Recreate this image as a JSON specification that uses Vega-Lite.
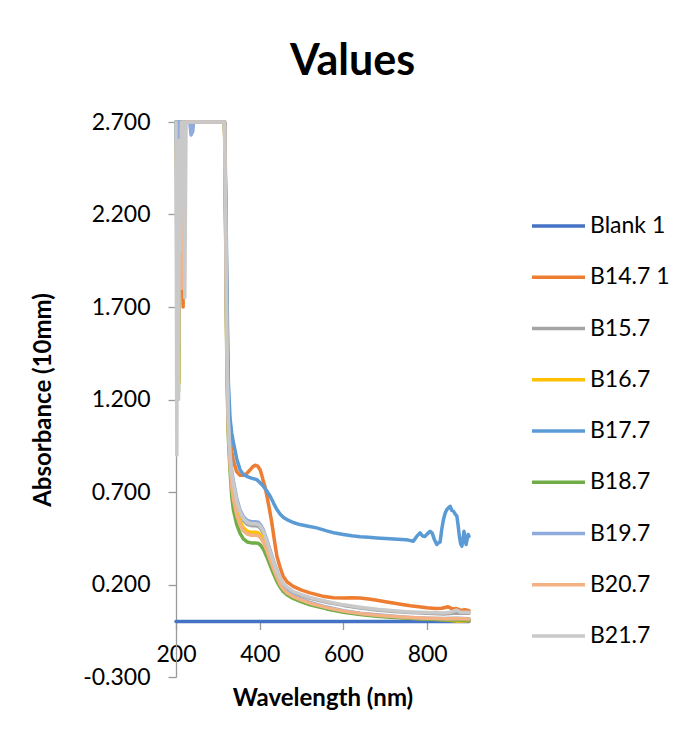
{
  "$schema": "https://vega.github.io/schema/vega-lite/v6.json",
  "width": 293,
  "height": 555,
  "autosize": {"type": "none"},
  "padding": {"left": 176, "top": 122, "right": 220, "bottom": 67},
  "background": "white",
  "title": {"text": "Values", "font": "Lato", "fontSize": 43, "fontWeight": "bold", "color": "black", "anchor": "middle", "frame": "group", "dx": 30, "offset": 27},
  "config": {"view": {"stroke": null}, "font": "Lato"},
  "data": {"values": [
    {"s":"Blank 1","w":200,"a":0},{"s":"Blank 1","w":900,"a":0},

    {"s":"B14.7 1","w":200,"a":2.7},{"s":"B14.7 1","w":204,"a":2.6},{"s":"B14.7 1","w":208,"a":2.2},{"s":"B14.7 1","w":211,"a":2.6},{"s":"B14.7 1","w":214,"a":2.0},{"s":"B14.7 1","w":217,"a":1.7},{"s":"B14.7 1","w":219,"a":2.4},{"s":"B14.7 1","w":222,"a":2.7},{"s":"B14.7 1","w":316,"a":2.7},{"s":"B14.7 1","w":319,"a":2.2},{"s":"B14.7 1","w":322,"a":1.65},{"s":"B14.7 1","w":325,"a":1.2},{"s":"B14.7 1","w":329,"a":1.0},{"s":"B14.7 1","w":333,"a":0.92},{"s":"B14.7 1","w":337,"a":0.87},{"s":"B14.7 1","w":345,"a":0.81},{"s":"B14.7 1","w":353,"a":0.79},{"s":"B14.7 1","w":361,"a":0.79},{"s":"B14.7 1","w":369,"a":0.8},{"s":"B14.7 1","w":377,"a":0.82},{"s":"B14.7 1","w":383,"a":0.835},{"s":"B14.7 1","w":389,"a":0.845},{"s":"B14.7 1","w":395,"a":0.84},{"s":"B14.7 1","w":401,"a":0.82},{"s":"B14.7 1","w":405,"a":0.79},{"s":"B14.7 1","w":409,"a":0.755},{"s":"B14.7 1","w":413,"a":0.725},{"s":"B14.7 1","w":417,"a":0.68},{"s":"B14.7 1","w":423,"a":0.61},{"s":"B14.7 1","w":429,"a":0.533},{"s":"B14.7 1","w":435,"a":0.44},{"s":"B14.7 1","w":441,"a":0.353},{"s":"B14.7 1","w":449,"a":0.29},{"s":"B14.7 1","w":456,"a":0.245},{"s":"B14.7 1","w":465,"a":0.215},{"s":"B14.7 1","w":480,"a":0.19},{"s":"B14.7 1","w":500,"a":0.17},{"s":"B14.7 1","w":520,"a":0.155},{"s":"B14.7 1","w":550,"a":0.137},{"s":"B14.7 1","w":576,"a":0.128},{"s":"B14.7 1","w":600,"a":0.127},{"s":"B14.7 1","w":620,"a":0.129},{"s":"B14.7 1","w":640,"a":0.127},{"s":"B14.7 1","w":660,"a":0.122},{"s":"B14.7 1","w":680,"a":0.115},{"s":"B14.7 1","w":700,"a":0.107},{"s":"B14.7 1","w":719,"a":0.1},{"s":"B14.7 1","w":740,"a":0.092},{"s":"B14.7 1","w":760,"a":0.085},{"s":"B14.7 1","w":780,"a":0.08},{"s":"B14.7 1","w":799,"a":0.074},{"s":"B14.7 1","w":820,"a":0.07},{"s":"B14.7 1","w":835,"a":0.072},{"s":"B14.7 1","w":850,"a":0.08},{"s":"B14.7 1","w":860,"a":0.068},{"s":"B14.7 1","w":870,"a":0.07},{"s":"B14.7 1","w":880,"a":0.06},{"s":"B14.7 1","w":890,"a":0.064},{"s":"B14.7 1","w":900,"a":0.058},

    {"s":"B15.7","w":200,"a":2.7},{"s":"B15.7","w":203,"a":1.5},{"s":"B15.7","w":206,"a":2.6},{"s":"B15.7","w":209,"a":1.9},{"s":"B15.7","w":212,"a":2.7},{"s":"B15.7","w":316,"a":2.7},{"s":"B15.7","w":319,"a":2.1},{"s":"B15.7","w":321,"a":1.6},{"s":"B15.7","w":323,"a":1.3},{"s":"B15.7","w":325,"a":1.08},{"s":"B15.7","w":329,"a":0.89},{"s":"B15.7","w":333,"a":0.79},{"s":"B15.7","w":337,"a":0.73},{"s":"B15.7","w":345,"a":0.64},{"s":"B15.7","w":353,"a":0.58},{"s":"B15.7","w":361,"a":0.545},{"s":"B15.7","w":370,"a":0.525},{"s":"B15.7","w":380,"a":0.518},{"s":"B15.7","w":390,"a":0.518},{"s":"B15.7","w":397,"a":0.515},{"s":"B15.7","w":403,"a":0.5},{"s":"B15.7","w":409,"a":0.475},{"s":"B15.7","w":417,"a":0.425},{"s":"B15.7","w":425,"a":0.37},{"s":"B15.7","w":433,"a":0.315},{"s":"B15.7","w":441,"a":0.265},{"s":"B15.7","w":449,"a":0.228},{"s":"B15.7","w":456,"a":0.202},{"s":"B15.7","w":465,"a":0.182},{"s":"B15.7","w":480,"a":0.158},{"s":"B15.7","w":500,"a":0.14},{"s":"B15.7","w":520,"a":0.125},{"s":"B15.7","w":560,"a":0.104},{"s":"B15.7","w":600,"a":0.087},{"s":"B15.7","w":640,"a":0.073},{"s":"B15.7","w":680,"a":0.062},{"s":"B15.7","w":720,"a":0.054},{"s":"B15.7","w":760,"a":0.048},{"s":"B15.7","w":800,"a":0.044},{"s":"B15.7","w":840,"a":0.041},{"s":"B15.7","w":870,"a":0.046},{"s":"B15.7","w":900,"a":0.045},

    {"s":"B16.7","w":200,"a":2.7},{"s":"B16.7","w":204,"a":2.1},{"s":"B16.7","w":207,"a":1.29},{"s":"B16.7","w":209,"a":2.3},{"s":"B16.7","w":212,"a":2.7},{"s":"B16.7","w":316,"a":2.7},{"s":"B16.7","w":319,"a":2.05},{"s":"B16.7","w":321,"a":1.55},{"s":"B16.7","w":323,"a":1.26},{"s":"B16.7","w":325,"a":1.05},{"s":"B16.7","w":329,"a":0.86},{"s":"B16.7","w":333,"a":0.745},{"s":"B16.7","w":337,"a":0.68},{"s":"B16.7","w":345,"a":0.595},{"s":"B16.7","w":353,"a":0.54},{"s":"B16.7","w":361,"a":0.507},{"s":"B16.7","w":370,"a":0.488},{"s":"B16.7","w":380,"a":0.482},{"s":"B16.7","w":390,"a":0.482},{"s":"B16.7","w":397,"a":0.479},{"s":"B16.7","w":403,"a":0.465},{"s":"B16.7","w":409,"a":0.442},{"s":"B16.7","w":417,"a":0.395},{"s":"B16.7","w":425,"a":0.344},{"s":"B16.7","w":433,"a":0.293},{"s":"B16.7","w":441,"a":0.246},{"s":"B16.7","w":449,"a":0.205},{"s":"B16.7","w":456,"a":0.178},{"s":"B16.7","w":465,"a":0.155},{"s":"B16.7","w":480,"a":0.132},{"s":"B16.7","w":500,"a":0.112},{"s":"B16.7","w":520,"a":0.096},{"s":"B16.7","w":560,"a":0.072},{"s":"B16.7","w":600,"a":0.053},{"s":"B16.7","w":640,"a":0.04},{"s":"B16.7","w":680,"a":0.031},{"s":"B16.7","w":720,"a":0.024},{"s":"B16.7","w":760,"a":0.018},{"s":"B16.7","w":800,"a":0.013},{"s":"B16.7","w":840,"a":0.01},{"s":"B16.7","w":870,"a":0.002},{"s":"B16.7","w":900,"a":0.004},

    {"s":"B17.7","w":200,"a":2.7},{"s":"B17.7","w":202,"a":2.55},{"s":"B17.7","w":204,"a":2.7},{"s":"B17.7","w":206,"a":2.58},{"s":"B17.7","w":208,"a":2.7},{"s":"B17.7","w":210,"a":2.6},{"s":"B17.7","w":212,"a":2.7},{"s":"B17.7","w":316,"a":2.7},{"s":"B17.7","w":319,"a":2.3},{"s":"B17.7","w":322,"a":1.75},{"s":"B17.7","w":325,"a":1.3},{"s":"B17.7","w":329,"a":1.1},{"s":"B17.7","w":333,"a":1.02},{"s":"B17.7","w":337,"a":0.97},{"s":"B17.7","w":345,"a":0.88},{"s":"B17.7","w":353,"a":0.82},{"s":"B17.7","w":361,"a":0.795},{"s":"B17.7","w":369,"a":0.785},{"s":"B17.7","w":380,"a":0.775},{"s":"B17.7","w":393,"a":0.767},{"s":"B17.7","w":401,"a":0.75},{"s":"B17.7","w":409,"a":0.73},{"s":"B17.7","w":417,"a":0.705},{"s":"B17.7","w":425,"a":0.677},{"s":"B17.7","w":433,"a":0.64},{"s":"B17.7","w":441,"a":0.605},{"s":"B17.7","w":449,"a":0.58},{"s":"B17.7","w":457,"a":0.562},{"s":"B17.7","w":465,"a":0.551},{"s":"B17.7","w":480,"a":0.535},{"s":"B17.7","w":496,"a":0.524},{"s":"B17.7","w":516,"a":0.515},{"s":"B17.7","w":536,"a":0.506},{"s":"B17.7","w":560,"a":0.49},{"s":"B17.7","w":580,"a":0.478},{"s":"B17.7","w":600,"a":0.47},{"s":"B17.7","w":620,"a":0.463},{"s":"B17.7","w":640,"a":0.458},{"s":"B17.7","w":660,"a":0.455},{"s":"B17.7","w":680,"a":0.452},{"s":"B17.7","w":700,"a":0.449},{"s":"B17.7","w":720,"a":0.446},{"s":"B17.7","w":740,"a":0.443},{"s":"B17.7","w":755,"a":0.44},{"s":"B17.7","w":767,"a":0.434},{"s":"B17.7","w":775,"a":0.46},{"s":"B17.7","w":783,"a":0.479},{"s":"B17.7","w":789,"a":0.462},{"s":"B17.7","w":795,"a":0.46},{"s":"B17.7","w":801,"a":0.475},{"s":"B17.7","w":807,"a":0.488},{"s":"B17.7","w":812,"a":0.478},{"s":"B17.7","w":817,"a":0.445},{"s":"B17.7","w":823,"a":0.416},{"s":"B17.7","w":827,"a":0.425},{"s":"B17.7","w":831,"a":0.43},{"s":"B17.7","w":835,"a":0.5},{"s":"B17.7","w":839,"a":0.551},{"s":"B17.7","w":843,"a":0.585},{"s":"B17.7","w":847,"a":0.605},{"s":"B17.7","w":851,"a":0.615},{"s":"B17.7","w":855,"a":0.623},{"s":"B17.7","w":859,"a":0.6},{"s":"B17.7","w":863,"a":0.596},{"s":"B17.7","w":867,"a":0.58},{"s":"B17.7","w":871,"a":0.569},{"s":"B17.7","w":874,"a":0.52},{"s":"B17.7","w":877,"a":0.46},{"s":"B17.7","w":880,"a":0.42},{"s":"B17.7","w":883,"a":0.407},{"s":"B17.7","w":886,"a":0.45},{"s":"B17.7","w":888,"a":0.488},{"s":"B17.7","w":891,"a":0.44},{"s":"B17.7","w":893,"a":0.416},{"s":"B17.7","w":896,"a":0.45},{"s":"B17.7","w":898,"a":0.47},{"s":"B17.7","w":900,"a":0.46},

    {"s":"B18.7","w":200,"a":2.7},{"s":"B18.7","w":203,"a":2.3},{"s":"B18.7","w":206,"a":1.24},{"s":"B18.7","w":208,"a":2.0},{"s":"B18.7","w":211,"a":2.7},{"s":"B18.7","w":316,"a":2.7},{"s":"B18.7","w":319,"a":2.0},{"s":"B18.7","w":321,"a":1.5},{"s":"B18.7","w":323,"a":1.2},{"s":"B18.7","w":325,"a":1.0},{"s":"B18.7","w":329,"a":0.82},{"s":"B18.7","w":333,"a":0.68},{"s":"B18.7","w":337,"a":0.605},{"s":"B18.7","w":345,"a":0.525},{"s":"B18.7","w":353,"a":0.476},{"s":"B18.7","w":361,"a":0.447},{"s":"B18.7","w":370,"a":0.43},{"s":"B18.7","w":380,"a":0.425},{"s":"B18.7","w":390,"a":0.425},{"s":"B18.7","w":397,"a":0.422},{"s":"B18.7","w":403,"a":0.41},{"s":"B18.7","w":409,"a":0.39},{"s":"B18.7","w":417,"a":0.349},{"s":"B18.7","w":425,"a":0.303},{"s":"B18.7","w":433,"a":0.258},{"s":"B18.7","w":441,"a":0.217},{"s":"B18.7","w":449,"a":0.185},{"s":"B18.7","w":456,"a":0.162},{"s":"B18.7","w":465,"a":0.145},{"s":"B18.7","w":480,"a":0.125},{"s":"B18.7","w":500,"a":0.106},{"s":"B18.7","w":520,"a":0.09},{"s":"B18.7","w":560,"a":0.068},{"s":"B18.7","w":600,"a":0.05},{"s":"B18.7","w":640,"a":0.038},{"s":"B18.7","w":680,"a":0.029},{"s":"B18.7","w":720,"a":0.022},{"s":"B18.7","w":760,"a":0.017},{"s":"B18.7","w":800,"a":0.013},{"s":"B18.7","w":840,"a":0.01},{"s":"B18.7","w":870,"a":0.008},{"s":"B18.7","w":900,"a":0.008},

    {"s":"B19.7","w":200,"a":2.7},{"s":"B19.7","w":204,"a":2.2},{"s":"B19.7","w":207,"a":2.7},{"s":"B19.7","w":233,"a":2.7},{"s":"B19.7","w":236,"a":2.63},{"s":"B19.7","w":240,"a":2.65},{"s":"B19.7","w":242,"a":2.7},{"s":"B19.7","w":316,"a":2.7},{"s":"B19.7","w":319,"a":2.15},{"s":"B19.7","w":321,"a":1.65},{"s":"B19.7","w":323,"a":1.33},{"s":"B19.7","w":325,"a":1.1},{"s":"B19.7","w":329,"a":0.91},{"s":"B19.7","w":333,"a":0.82},{"s":"B19.7","w":337,"a":0.76},{"s":"B19.7","w":345,"a":0.666},{"s":"B19.7","w":353,"a":0.603},{"s":"B19.7","w":361,"a":0.567},{"s":"B19.7","w":370,"a":0.546},{"s":"B19.7","w":380,"a":0.539},{"s":"B19.7","w":390,"a":0.539},{"s":"B19.7","w":397,"a":0.536},{"s":"B19.7","w":403,"a":0.52},{"s":"B19.7","w":409,"a":0.494},{"s":"B19.7","w":417,"a":0.442},{"s":"B19.7","w":425,"a":0.385},{"s":"B19.7","w":433,"a":0.328},{"s":"B19.7","w":441,"a":0.276},{"s":"B19.7","w":449,"a":0.225},{"s":"B19.7","w":456,"a":0.195},{"s":"B19.7","w":465,"a":0.168},{"s":"B19.7","w":480,"a":0.14},{"s":"B19.7","w":500,"a":0.12},{"s":"B19.7","w":520,"a":0.103},{"s":"B19.7","w":560,"a":0.078},{"s":"B19.7","w":600,"a":0.058},{"s":"B19.7","w":640,"a":0.045},{"s":"B19.7","w":680,"a":0.036},{"s":"B19.7","w":720,"a":0.028},{"s":"B19.7","w":760,"a":0.022},{"s":"B19.7","w":800,"a":0.018},{"s":"B19.7","w":840,"a":0.016},{"s":"B19.7","w":870,"a":0.018},{"s":"B19.7","w":900,"a":0.015},

    {"s":"B20.7","w":200,"a":2.5},{"s":"B20.7","w":203,"a":2.6},{"s":"B20.7","w":206,"a":1.5},{"s":"B20.7","w":208,"a":2.4},{"s":"B20.7","w":211,"a":2.45},{"s":"B20.7","w":214,"a":1.8},{"s":"B20.7","w":217,"a":2.6},{"s":"B20.7","w":220,"a":2.7},{"s":"B20.7","w":316,"a":2.7},{"s":"B20.7","w":319,"a":2.05},{"s":"B20.7","w":321,"a":1.55},{"s":"B20.7","w":323,"a":1.25},{"s":"B20.7","w":325,"a":1.04},{"s":"B20.7","w":329,"a":0.85},{"s":"B20.7","w":333,"a":0.73},{"s":"B20.7","w":337,"a":0.665},{"s":"B20.7","w":345,"a":0.576},{"s":"B20.7","w":353,"a":0.522},{"s":"B20.7","w":361,"a":0.49},{"s":"B20.7","w":370,"a":0.473},{"s":"B20.7","w":380,"a":0.466},{"s":"B20.7","w":390,"a":0.466},{"s":"B20.7","w":397,"a":0.464},{"s":"B20.7","w":403,"a":0.45},{"s":"B20.7","w":409,"a":0.428},{"s":"B20.7","w":417,"a":0.383},{"s":"B20.7","w":425,"a":0.333},{"s":"B20.7","w":433,"a":0.284},{"s":"B20.7","w":441,"a":0.239},{"s":"B20.7","w":449,"a":0.2},{"s":"B20.7","w":456,"a":0.175},{"s":"B20.7","w":465,"a":0.155},{"s":"B20.7","w":480,"a":0.135},{"s":"B20.7","w":500,"a":0.115},{"s":"B20.7","w":520,"a":0.099},{"s":"B20.7","w":560,"a":0.075},{"s":"B20.7","w":600,"a":0.056},{"s":"B20.7","w":640,"a":0.043},{"s":"B20.7","w":680,"a":0.034},{"s":"B20.7","w":720,"a":0.027},{"s":"B20.7","w":760,"a":0.021},{"s":"B20.7","w":800,"a":0.017},{"s":"B20.7","w":840,"a":0.015},{"s":"B20.7","w":870,"a":0.016},{"s":"B20.7","w":900,"a":0.014},

    {"s":"B21.7","w":200,"a":2.7},{"s":"B21.7","w":202,"a":0.9},{"s":"B21.7","w":204,"a":2.5},{"s":"B21.7","w":206,"a":1.2},{"s":"B21.7","w":208,"a":2.6},{"s":"B21.7","w":210,"a":2.0},{"s":"B21.7","w":213,"a":2.7},{"s":"B21.7","w":218,"a":2.7},{"s":"B21.7","w":221,"a":1.75},{"s":"B21.7","w":224,"a":2.7},{"s":"B21.7","w":316,"a":2.7},{"s":"B21.7","w":319,"a":2.12},{"s":"B21.7","w":321,"a":1.62},{"s":"B21.7","w":323,"a":1.31},{"s":"B21.7","w":325,"a":1.09},{"s":"B21.7","w":329,"a":0.9},{"s":"B21.7","w":333,"a":0.805},{"s":"B21.7","w":337,"a":0.745},{"s":"B21.7","w":345,"a":0.653},{"s":"B21.7","w":353,"a":0.592},{"s":"B21.7","w":361,"a":0.556},{"s":"B21.7","w":370,"a":0.536},{"s":"B21.7","w":380,"a":0.528},{"s":"B21.7","w":390,"a":0.528},{"s":"B21.7","w":397,"a":0.525},{"s":"B21.7","w":403,"a":0.51},{"s":"B21.7","w":409,"a":0.485},{"s":"B21.7","w":417,"a":0.434},{"s":"B21.7","w":425,"a":0.377},{"s":"B21.7","w":433,"a":0.321},{"s":"B21.7","w":441,"a":0.27},{"s":"B21.7","w":449,"a":0.233},{"s":"B21.7","w":456,"a":0.206},{"s":"B21.7","w":465,"a":0.186},{"s":"B21.7","w":480,"a":0.162},{"s":"B21.7","w":500,"a":0.145},{"s":"B21.7","w":520,"a":0.13},{"s":"B21.7","w":560,"a":0.108},{"s":"B21.7","w":600,"a":0.09},{"s":"B21.7","w":640,"a":0.077},{"s":"B21.7","w":680,"a":0.066},{"s":"B21.7","w":720,"a":0.058},{"s":"B21.7","w":760,"a":0.052},{"s":"B21.7","w":800,"a":0.048},{"s":"B21.7","w":840,"a":0.046},{"s":"B21.7","w":855,"a":0.05},{"s":"B21.7","w":870,"a":0.062},{"s":"B21.7","w":880,"a":0.05},{"s":"B21.7","w":900,"a":0.05}
  ]},
  "mark": {"type": "line", "strokeWidth": 3.5, "strokeCap": "round", "strokeJoin": "round"},
  "encoding": {
    "x": {
      "field": "w", "type": "quantitative",
      "scale": {"domain": [200, 900], "nice": false, "zero": false},
      "axis": {"title": "Wavelength (nm)", "values": [200, 400, 600, 800], "offset": -55.5, "grid": false,
        "domainColor": "#9A9A9A", "tickColor": "#9A9A9A", "domainWidth": 1.3, "tickWidth": 1.3, "tickSize": 8,
        "labelFont": "Lato", "labelFontSize": 23, "labelColor": "black", "labelPadding": 14, "labelFlush": false, "labelOverlap": false,
        "titleFont": "Lato", "titleFontSize": 24, "titleFontWeight": "bold", "titleColor": "black", "titlePadding": 20}
    },
    "y": {
      "field": "a", "type": "quantitative",
      "scale": {"domain": [-0.3, 2.7], "nice": false, "zero": false},
      "axis": {"title": "Absorbance (10mm)", "values": [-0.3, 0.2, 0.7, 1.2, 1.7, 2.2, 2.7], "format": ".3f",
        "labelExpr": "replace(datum.label, '\u2212', '-')", "grid": false,
        "domainColor": "#9A9A9A", "tickColor": "#9A9A9A", "domainWidth": 1.3, "tickWidth": 1.3, "tickSize": 8,
        "labelFont": "Lato", "labelFontSize": 23, "labelColor": "black", "labelPadding": 18, "labelFlush": false, "labelOverlap": false,
        "titleFont": "Lato", "titleFontSize": 24, "titleFontWeight": "bold", "titleColor": "black", "titlePadding": 27}
    },
    "color": {
      "field": "s", "type": "nominal",
      "scale": {"domain": ["Blank 1", "B14.7 1", "B15.7", "B16.7", "B17.7", "B18.7", "B19.7", "B20.7", "B21.7"],
                "range": ["#4472C4", "#ED7D31", "#A5A5A5", "#FFC000", "#5B9BD5", "#70AD47", "#8FAADC", "#F4B183", "#C9C9C9"]},
      "legend": {"orient": "none", "legendX": 354, "legendY": 94, "title": null, "padding": 0,
        "symbolType": "stroke", "symbolSize": 2809, "symbolStrokeWidth": 3.5, "clipHeight": 20, "rowPadding": 28.25,
        "labelFont": "Lato", "labelFontSize": 23, "labelColor": "black", "labelOffset": 3, "labelLimit": 200}
    }
  }
}
